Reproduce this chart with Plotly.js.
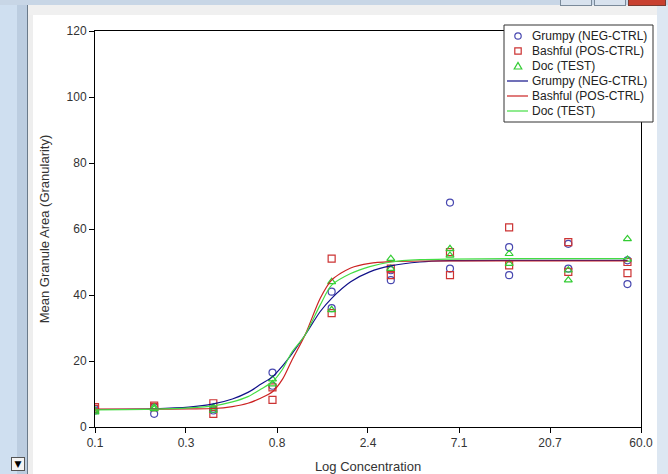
<!DOCTYPE html>
<html>
<head>
<meta charset="utf-8">
<script src="https://cdn.plot.ly/plotly-3.0.1.min.js"></script>
<style>
  html, body { margin: 0; padding: 0; background: #ffffff; overflow: hidden; }
  #wrap { position: relative; width: 668px; height: 474px; }
  .chrome { position: absolute; }
  #plot { position: absolute; left: 0; top: 0; width: 668px; height: 474px; }
</style>
</head>
<body>
<div id="wrap">
  <div class="chrome" style="left:0;top:0;width:668px;height:474px;background:#ffffff;"></div>
  <div class="chrome" style="left:0;top:0;width:17px;height:474px;background:#cfdff0;"></div>
  <div class="chrome" style="left:17px;top:0;width:10px;height:474px;background:#bccde0;"></div>
  <div class="chrome" style="left:27px;top:0;width:1px;height:474px;background:#6a7a8a;"></div>
  <div class="chrome" style="left:28px;top:0;width:5px;height:474px;background:#eeeeee;"></div>
  <div class="chrome" style="left:657px;top:0;width:11px;height:474px;background:#dde7f2;"></div>
  <div class="chrome" style="left:0;top:0;width:668px;height:5px;background:#c8d6e6;"></div>
  <div class="chrome" style="left:28px;top:5px;width:629px;height:10px;background:#f0f0f0;"></div>
  <div class="chrome" style="left:560px;top:0;width:30px;height:5px;background:#d8e2ee;border:1px solid #7a8a9a;border-top:none;"></div>
  <div class="chrome" style="left:594px;top:0;width:30px;height:5px;background:#d8e2ee;border:1px solid #7a8a9a;border-top:none;"></div>
  <div class="chrome" style="left:628px;top:0;width:36px;height:5px;background:#c84030;border:1px solid #7a3a30;border-top:none;"></div>
  <div class="chrome" style="left:11px;top:457px;width:12px;height:12px;background:#f4f4f4;border:1px solid #555;font:9px 'DejaVu Sans';line-height:12px;text-align:center;color:#000;">&#9660;</div>
  <div id="plot"></div>
</div>
<script>
// Concentrations at which replicates were measured
var conc = [0.1, 0.2, 0.4, 0.8, 1.6, 3.2, 6.4, 12.8, 25.6, 51.2];

// Replicate measurements (Mean Granule Area)
var grumpyRep1  = [5.5, 6.0, 5.5, 16.5, 41.0, 47.5, 68.0, 54.5, 55.5, 50.5];
var grumpyRep2  = [5.0, 4.0, 5.0, 12.5, 36.0, 44.5, 48.0, 46.0, 48.0, 43.3];
var bashfulRep1 = [5.5, 6.5, 7.2, 12.0, 51.0, 48.0, 53.0, 60.5, 56.0, 50.0];
var bashfulRep2 = [6.0, 6.0, 4.0, 8.2, 34.5, 46.0, 46.0, 49.0, 47.0, 46.6];
var docRep1     = [4.5, 5.5, 6.0, 14.5, 44.0, 51.0, 54.0, 52.5, 47.5, 57.0];
var docRep2     = [5.0, 6.0, 5.0, 13.0, 35.5, 48.0, 52.0, 49.5, 44.5, 50.8];

// Fitted curves
var curveX       = [0.1, 0.2, 0.3, 0.4, 0.5, 0.6, 0.7, 0.8, 0.9, 1.0, 1.17, 1.4, 1.6, 2.0, 2.5, 3.2, 4.5, 6.4, 12.8, 25.6, 51.2];
var grumpyCurve  = [5.3, 5.5, 6.0, 7.0, 8.5, 10.5, 13.0, 15.2, 18.5, 22.0, 27.8, 35.0, 39.0, 44.0, 47.0, 48.8, 50.0, 50.4, 50.5, 50.5, 50.5];
var bashfulCurve = [5.4, 5.4, 5.5, 5.6, 6.2, 7.2, 8.8, 10.7, 14.5, 20.0, 27.8, 39.0, 44.5, 48.2, 49.6, 50.1, 50.3, 50.3, 50.3, 50.3, 50.3];
var docCurve     = [5.2, 5.4, 5.8, 6.4, 7.6, 9.2, 11.5, 13.7, 17.5, 22.5, 27.8, 37.0, 43.0, 46.5, 48.6, 50.0, 50.7, 50.9, 51.0, 51.0, 51.0];

// Axis ticks
var xTickVals  = [0.1, 0.2904, 0.8434, 2.449, 7.114, 20.66, 60];
var xTickText  = ['0.1', '0.3', '0.8', '2.4', '7.1', '20.7', '60.0'];
var yTickVals  = [0, 20, 40, 60, 80, 100, 120];

// Legend entries (markers first, then fitted lines)
var legendLabels = ['Grumpy (NEG-CTRL)', 'Bashful (POS-CTRL)', 'Doc (TEST)',
                    'Grumpy (NEG-CTRL)', 'Bashful (POS-CTRL)', 'Doc (TEST)'];

var markerColors = ['#4848b0', '#cc3333', '#33cc33'];
var lineColors   = ['#101088', '#cc2222', '#44dd44'];

function pts(a, b) { return a.concat(b); }

var traces = [
  { x: pts(conc, conc), y: pts(grumpyRep1, grumpyRep2), name: legendLabels[0], type: 'scatter', mode: 'markers',
    marker: { symbol: 'circle-open', size: 7, color: markerColors[0], line: { width: 1.2 } } },
  { x: pts(conc, conc), y: pts(bashfulRep1, bashfulRep2), name: legendLabels[1], type: 'scatter', mode: 'markers',
    marker: { symbol: 'square-open', size: 7, color: markerColors[1], line: { width: 1.2 } } },
  { x: pts(conc, conc), y: pts(docRep1, docRep2), name: legendLabels[2], type: 'scatter', mode: 'markers',
    marker: { symbol: 'triangle-up-open', size: 7, color: markerColors[2], line: { width: 1.2 } } },
  { x: curveX, y: grumpyCurve, name: legendLabels[3], type: 'scatter', mode: 'lines',
    line: { color: lineColors[0], width: 1.2, shape: 'spline', smoothing: 0.8 } },
  { x: curveX, y: bashfulCurve, name: legendLabels[4], type: 'scatter', mode: 'lines',
    line: { color: lineColors[1], width: 1.2, shape: 'spline', smoothing: 0.8 } },
  { x: curveX, y: docCurve, name: legendLabels[5], type: 'scatter', mode: 'lines',
    line: { color: lineColors[2], width: 1.2, shape: 'spline', smoothing: 0.8 } }
];
traces.forEach(function (t) { t.showlegend = false; });

// Plot-area geometry (pixels) for placing the compact legend box
var W = 668, H = 474, ML = 95, MR = 27, MT = 31, MB = 47;
var PW = W - ML - MR, PH = H - MT - MB;
function px(x) { return (x - ML) / PW; }
function py(y) { return (H - MB - y) / PH; }

var boxL = 504, boxR = 653, boxT = 25, boxB = 122;
var rowY = [36, 51, 66, 81, 96, 111];
var symX = 518, lineL = 507, lineR = 528, textX = 531;

var shapes = [
  { type: 'rect', xref: 'paper', yref: 'paper', x0: px(boxL), x1: px(boxR), y0: py(boxB), y1: py(boxT),
    fillcolor: '#ffffff', line: { color: '#333333', width: 1 }, layer: 'above' }
];
var r = 3.2;
shapes.push({ type: 'circle', xref: 'paper', yref: 'paper', x0: px(symX - r), x1: px(symX + r),
  y0: py(rowY[0] + r), y1: py(rowY[0] - r), line: { color: markerColors[0], width: 1.2 }, layer: 'above' });
shapes.push({ type: 'rect', xref: 'paper', yref: 'paper', x0: px(symX - r), x1: px(symX + r),
  y0: py(rowY[1] + r), y1: py(rowY[1] - r), line: { color: markerColors[1], width: 1.2 }, layer: 'above' });
shapes.push({ type: 'path', xref: 'paper', yref: 'paper', layer: 'above', line: { color: markerColors[2], width: 1.2 },
  path: 'M' + px(symX - 3.8) + ',' + py(rowY[2] + 3) + ' L' + px(symX + 3.8) + ',' + py(rowY[2] + 3) +
        ' L' + px(symX) + ',' + py(rowY[2] - 3.6) + ' Z' });
for (var i = 0; i < 3; i++) {
  shapes.push({ type: 'line', xref: 'paper', yref: 'paper', x0: px(lineL), x1: px(lineR),
    y0: py(rowY[3 + i]), y1: py(rowY[3 + i]), line: { color: lineColors[i], width: 1.2 }, layer: 'above' });
}

var annotations = legendLabels.map(function (lab, i) {
  return { xref: 'paper', yref: 'paper', x: px(textX), y: py(rowY[i]), xanchor: 'left', yanchor: 'middle',
    text: lab, showarrow: false, borderpad: 0,
    font: { family: '"Liberation Sans", Arial, sans-serif', size: 12, color: '#222222' } };
});

var font = { family: '"Liberation Sans", Arial, sans-serif', size: 12, color: '#333333' };

var layout = {
  width: W, height: H, autosize: false,
  margin: { l: ML, r: MR, t: MT, b: MB, pad: 0 },
  paper_bgcolor: 'rgba(0,0,0,0)',
  plot_bgcolor: '#ffffff',
  font: font,
  showlegend: false,
  xaxis: {
    type: 'log', range: [-1, Math.log10(60)],
    tickmode: 'array', tickvals: xTickVals, ticktext: xTickText,
    ticks: 'outside', ticklen: 5, tickcolor: '#000', tickwidth: 1,
    showline: true, linecolor: '#000', linewidth: 1, mirror: true,
    showgrid: false, zeroline: false,
    tickfont: font,
    title: { text: 'Log Concentration', font: { family: font.family, size: 13, color: '#333' }, standoff: 14 }
  },
  yaxis: {
    range: [0, 120],
    tickmode: 'array', tickvals: yTickVals,
    ticks: 'outside', ticklen: 5, tickcolor: '#000', tickwidth: 1,
    showline: true, linecolor: '#000', linewidth: 1, mirror: true,
    showgrid: false, zeroline: false,
    tickfont: font,
    title: { text: 'Mean Granule Area (Granularity)', font: { family: font.family, size: 13, color: '#333' }, standoff: 14 }
  },
  shapes: shapes,
  annotations: annotations
};

Plotly.newPlot('plot', traces, layout, { displayModeBar: false, staticPlot: true });
</script>
</body>
</html>
